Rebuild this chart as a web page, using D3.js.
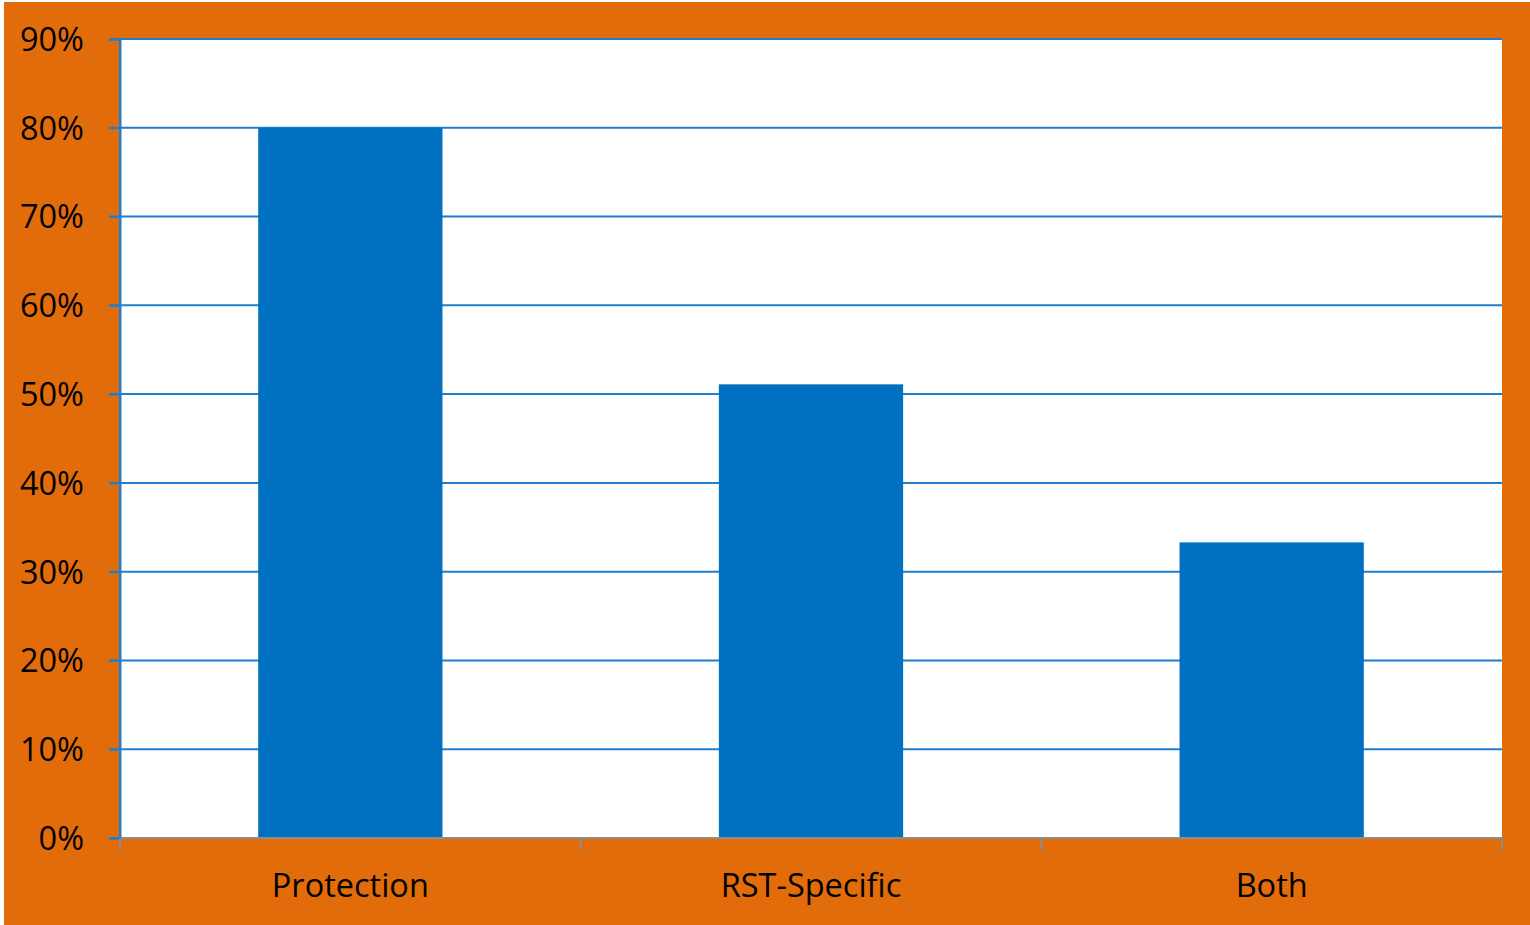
<!DOCTYPE html>
<html>
<head>
<meta charset="utf-8">
<script src="https://cdn.jsdelivr.net/npm/d3@7"></script>
<style>
  html, body { margin: 0; padding: 0; background: #ffffff; }
  svg { display: block; }
</style>
</head>
<body>
<svg id="chart" width="1530" height="925"></svg>
<script>
const categories = ["Protection", "RST-Specific", "Both"];
const values = [0.80, 0.511, 0.333];
const yTicks = [0, 0.1, 0.2, 0.3, 0.4, 0.5, 0.6, 0.7, 0.8, 0.9];

const svg = d3.select("#chart");
const W = 1530, H = 925;
const margin = { left: 120, top: 39, right: 28, bottom: 87 };
const plotW = W - margin.left - margin.right;
const plotH = H - margin.top - margin.bottom;

const orange = "#E36C0A";
const barBlue = "#0070C0";
const gridBlue = "#1F7FCE";
const font = "'Open Sans', sans-serif";
const fontSize = 32.5;

// background
svg.append("rect").attr("x", 4).attr("y", 2).attr("width", W - 4).attr("height", H - 2).attr("fill", orange);

const g = svg.append("g").attr("transform", `translate(${margin.left},${margin.top})`);

const x = d3.scaleBand().domain(categories).range([0, plotW]).paddingInner(0.6).paddingOuter(0.3);
const y = d3.scaleLinear().domain([0, 0.9]).range([plotH, 0]);

// plot area
g.append("rect").attr("x", 0).attr("y", 0).attr("width", plotW).attr("height", plotH).attr("fill", "#ffffff");

// gridlines
g.append("g").selectAll("line").data(yTicks.filter(d => d > 0)).join("line")
  .attr("x1", -11).attr("x2", plotW)
  .attr("y1", d => y(d)).attr("y2", d => y(d))
  .attr("stroke", gridBlue).attr("stroke-width", 2);

// bars
g.append("g").selectAll("rect").data(categories).join("rect")
  .attr("x", d => x(d))
  .attr("y", (d, i) => y(values[i]))
  .attr("width", x.bandwidth())
  .attr("height", (d, i) => plotH - y(values[i]))
  .attr("fill", barBlue);

// left axis
const yAxis = d3.axisLeft(y).tickValues(yTicks).tickFormat(d3.format(".0%")).tickSize(11).tickPadding(25);
const ya = g.append("g").call(yAxis);
ya.select(".domain").attr("stroke", gridBlue).attr("stroke-width", 2);
ya.selectAll(".tick line").attr("stroke", gridBlue).attr("stroke-width", 2);
ya.selectAll(".tick text").attr("font-family", font).attr("font-size", fontSize).attr("fill", "#000").attr("dy", "0.35em");

// bottom axis
const boundaries = [0, 1, 2, 3].map(i => i * plotW / 3);
g.append("line").attr("x1", 0).attr("x2", plotW).attr("y1", plotH).attr("y2", plotH)
  .attr("stroke", "#8c8c8c").attr("stroke-width", 2);
g.append("g").selectAll("line").data(boundaries).join("line")
  .attr("x1", d => d).attr("x2", d => d).attr("y1", plotH).attr("y2", plotH + 12)
  .attr("stroke", "#8c8c8c").attr("stroke-width", 2);
// left axis line drawn over so blue shows at the corner
g.append("line").attr("x1", 0).attr("x2", 0).attr("y1", 0).attr("y2", plotH).attr("stroke", gridBlue).attr("stroke-width", 2);
g.append("line").attr("x1", -11).attr("x2", 0).attr("y1", plotH).attr("y2", plotH).attr("stroke", gridBlue).attr("stroke-width", 2);

g.append("g").selectAll("text").data(categories).join("text")
  .attr("x", d => x(d) + x.bandwidth() / 2)
  .attr("y", plotH + 48)
  .attr("dy", "0.35em")
  .attr("text-anchor", "middle")
  .attr("font-family", font).attr("font-size", fontSize).attr("fill", "#000")
  .text(d => d);
</script>
</body>
</html>
